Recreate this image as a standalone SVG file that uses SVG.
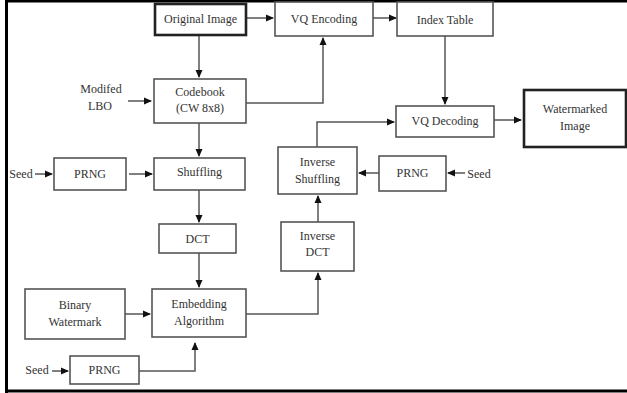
<svg xmlns="http://www.w3.org/2000/svg" width="627" height="393" viewBox="0 0 627 393">
<defs>
<marker id="ah" markerWidth="8" markerHeight="8" refX="7" refY="4" orient="auto" markerUnits="userSpaceOnUse">
<path d="M0,0.5 L8,4 L0,7.5 Z" fill="#111"/>
</marker>
<style>
.b{fill:#fff;stroke:#555;stroke-width:1.6}
.tb{fill:#fff;stroke:#222;stroke-width:2.6}
.t{font-family:"Liberation Serif","Times New Roman",serif;font-size:12px;fill:#333;text-anchor:middle}
.c{fill:none;stroke:#555;stroke-width:1.5}
</style>
</defs>
<rect width="627" height="393" fill="#fff"/>
<path d="M6.5,393 V1 H627 M6.5,391 H627" fill="none" stroke="#000" stroke-width="3"/>
<g id="connectors">
<path class="c" d="M246,18 H273" marker-end="url(#ah)"/>
<path class="c" d="M373,18 H396" marker-end="url(#ah)"/>
<path class="c" d="M199,35 V77" marker-end="url(#ah)"/>
<path class="c" d="M128,101 H151" marker-end="url(#ah)"/>
<path class="c" d="M246,103 H323 V38" marker-end="url(#ah)"/>
<path class="c" d="M199,123 V156" marker-end="url(#ah)"/>
<path class="c" d="M35,174 H52" marker-end="url(#ah)"/>
<path class="c" d="M129,174 H152" marker-end="url(#ah)"/>
<path class="c" d="M199,190 V222" marker-end="url(#ah)"/>
<path class="c" d="M199,253 V287" marker-end="url(#ah)"/>
<path class="c" d="M125,314 H150" marker-end="url(#ah)"/>
<path class="c" d="M52,371 H68" marker-end="url(#ah)"/>
<path class="c" d="M139,371 H195 V343" marker-end="url(#ah)"/>
<path class="c" d="M246,314 H318 V273" marker-end="url(#ah)"/>
<path class="c" d="M318,222 V196" marker-end="url(#ah)"/>
<path class="c" d="M379,173 H359" marker-end="url(#ah)"/>
<path class="c" d="M465,173 H448" marker-end="url(#ah)"/>
<path class="c" d="M317,147 V122 H394" marker-end="url(#ah)"/>
<path class="c" d="M445,36 V104" marker-end="url(#ah)"/>
<path class="c" d="M494,120 H521" marker-end="url(#ah)"/>
</g>
<g id="original-image"><rect class="tb" x="155" y="4" width="91" height="31"/><text class="t" x="200.5" y="23">Original Image</text></g>
<g id="vq-encoding"><rect class="b" x="275" y="2" width="98" height="34"/><text class="t" x="324" y="23">VQ Encoding</text></g>
<g id="index-table"><rect class="b" x="397" y="2" width="96" height="34"/><text class="t" x="445" y="24">Index Table</text></g>
<g id="modified-lbo"><text class="t" x="101" y="93">Modifed</text><text class="t" x="100" y="110">LBO</text></g>
<g id="codebook"><rect class="b" x="154" y="79" width="92" height="44"/><text class="t" x="200" y="96">Codebook</text><text class="t" x="200" y="112">(CW 8x8)</text></g>
<g id="seed1"><text class="t" x="21" y="178">Seed</text></g>
<g id="prng1"><rect class="b" x="54" y="158" width="72" height="32"/><text class="t" x="90" y="178">PRNG</text></g>
<g id="shuffling"><rect class="b" x="154" y="158" width="91" height="32"/><text class="t" x="199.5" y="176">Shuffling</text></g>
<g id="dct"><rect class="b" x="159" y="224" width="77" height="29"/><text class="t" x="197.5" y="243">DCT</text></g>
<g id="binary-watermark"><rect class="b" x="25" y="289" width="100" height="50"/><text class="t" x="75" y="309">Binary</text><text class="t" x="75" y="326">Watermark</text></g>
<g id="embedding"><rect class="b" x="152" y="289" width="94" height="48"/><text class="t" x="199" y="308">Embedding</text><text class="t" x="199" y="325">Algorithm</text></g>
<g id="seed2"><text class="t" x="37" y="374">Seed</text></g>
<g id="prng2"><rect class="b" x="70" y="356" width="69" height="28"/><text class="t" x="104.5" y="374">PRNG</text></g>
<g id="inverse-dct"><rect class="b" x="281" y="222" width="73" height="49"/><text class="t" x="317.5" y="240">Inverse</text><text class="t" x="317.5" y="256">DCT</text></g>
<g id="inverse-shuffling"><rect class="b" x="278" y="147" width="79" height="47"/><text class="t" x="317.5" y="166">Inverse</text><text class="t" x="317.5" y="183">Shuffling</text></g>
<g id="prng3"><rect class="b" x="379" y="156" width="67" height="35"/><text class="t" x="412.5" y="177">PRNG</text></g>
<g id="seed3"><text class="t" x="479" y="178">Seed</text></g>
<g id="vq-decoding"><rect class="b" x="396" y="106" width="98" height="31"/><text class="t" x="445" y="125">VQ Decoding</text></g>
<g id="watermarked-image"><rect class="tb" x="524" y="90" width="102" height="57"/><text class="t" x="575" y="113">Watermarked</text><text class="t" x="575" y="130">Image</text></g>
</svg>
